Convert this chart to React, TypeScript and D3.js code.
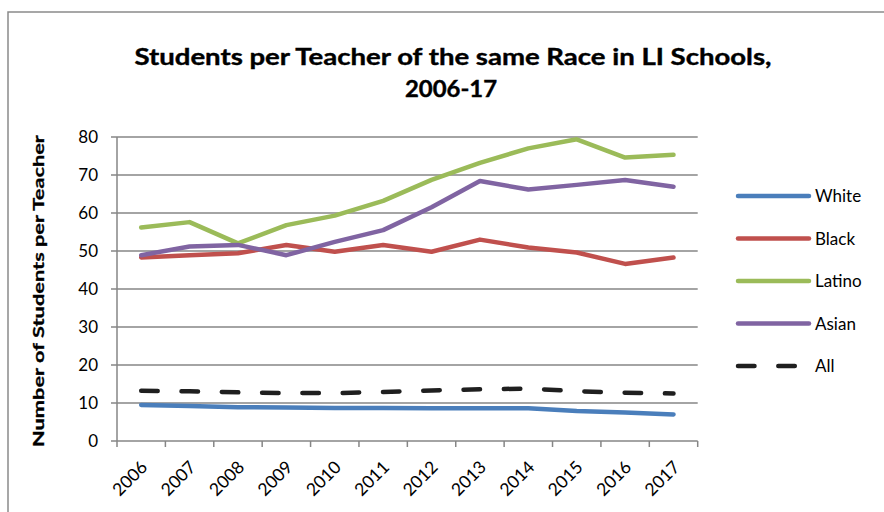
import React from "react";
import * as d3 from "d3";

const years = ["2006","2007","2008","2009","2010","2011","2012","2013","2014","2015","2016","2017"];
const white = [9.5, 9.2, 8.9, 8.8, 8.7, 8.7, 8.6, 8.6, 8.6, 7.9, 7.5, 7.0];
const black = [48.3, 48.9, 49.4, 51.6, 49.8, 51.6, 49.8, 53.0, 50.9, 49.6, 46.6, 48.3];
const latino = [56.2, 57.6, 52.0, 56.8, 59.3, 63.2, 68.7, 73.2, 77.0, 79.4, 74.6, 75.3];
const asian = [48.9, 51.2, 51.6, 48.9, 52.4, 55.5, 61.5, 68.4, 66.2, 67.4, 68.7, 66.9];
const all = [13.2, 13.1, 12.8, 12.6, 12.6, 12.9, 13.3, 13.6, 13.8, 13.1, 12.7, 12.5];
const yTicks = [0, 10, 20, 30, 40, 50, 60, 70, 80];

const seriesList = [
  { name: "White", values: white, color: "#4A7EBB", dash: "" },
  { name: "Black", values: black, color: "#C0504D", dash: "" },
  { name: "Latino", values: latino, color: "#9BBB59", dash: "" },
  { name: "Asian", values: asian, color: "#8064A2", dash: "" },
  { name: "All", values: all, color: "#1F1F1F", dash: "16.5,23.8" },
];

const FONT = "Lato, 'Open Sans', sans-serif";

export default function App() {
  const left = 117, right = 697.7, top = 137, bottom = 441;
  const x = d3.scaleBand<string>().domain(years).range([left, right]);
  const y = d3.scaleLinear().domain([0, 80]).range([bottom, top]);
  const line = d3
    .line<number>()
    .x((_, i) => (x(years[i]) as number) + x.bandwidth() / 2)
    .y((d) => y(d));
  const grid = "#868686";
  const legX1 = 738, legX2 = 809, legY0 = 196, legStep = 42.5;

  return (
    <svg
      width={884}
      height={512}
      style={{ position: "absolute", left: 0, top: 0, background: "#fff" }}
    >
      <rect x={0} y={0} width={884} height={512} fill="#fff" />
      {/* chart border */}
      <path d="M8,513 L8,12 L885,12" fill="none" stroke="#8a8a8a" strokeWidth={1.5} />

      {/* title */}
      <text x={453} y={65} textAnchor="middle" fontFamily={FONT} fontWeight="bold" fontSize={23}
        textLength={637} lengthAdjust="spacingAndGlyphs" fill="#000" stroke="#000" strokeWidth={0.4}>
        Students per Teacher of the same Race in LI Schools,
      </text>
      <text x={451} y={97} textAnchor="middle" fontFamily={FONT} fontWeight="bold" fontSize={23}
        textLength={92} lengthAdjust="spacingAndGlyphs" fill="#000" stroke="#000" strokeWidth={0.4}>
        2006-17
      </text>

      {/* y axis label */}
      <text transform={`translate(44,${(top + bottom) / 2 + 2}) rotate(-90)`} textAnchor="middle"
        fontFamily={FONT} fontWeight="bold" fontSize={16} textLength={312}
        lengthAdjust="spacingAndGlyphs" fill="#000" stroke="#000" strokeWidth={0.3}>
        Number of Students per Teacher
      </text>

      {/* gridlines and y ticks */}
      {yTicks.map((t) => (
        <g key={t}>
          <line x1={left - 6} x2={right} y1={y(t)} y2={y(t)} stroke={grid} strokeWidth={1.5} />
          <text x={98} y={y(t) + 6} textAnchor="end" fontFamily={FONT} fontSize={17} fill="#000">
            {t}
          </text>
        </g>
      ))}
      {/* y axis */}
      <line x1={left} x2={left} y1={top} y2={bottom} stroke={grid} strokeWidth={1.5} />
      {/* x tick marks */}
      {years.concat(["end"]).map((yr, i) => {
        const xx = left + i * x.step();
        return <line key={yr} x1={xx} x2={xx} y1={bottom} y2={bottom + 6} stroke={grid} strokeWidth={1.5} />;
      })}
      {/* x labels */}
      {years.map((yr) => {
        const cx = (x(yr) as number) + x.bandwidth() / 2;
        return (
          <text key={yr} transform={`translate(${cx + 3},${bottom + 23}) rotate(-45)`} textAnchor="end"
            fontFamily={FONT} fontSize={17.5} fill="#000" dy="0.35em">
            {yr}
          </text>
        );
      })}

      {/* series lines */}
      {seriesList.map((s) => (
        <path key={s.name} d={line(s.values) as string} fill="none" stroke={s.color} strokeWidth={4.5}
          strokeLinecap="round" strokeLinejoin="round" strokeDasharray={s.dash || undefined} />
      ))}

      {/* legend */}
      {seriesList.map((s, i) => {
        const ly = legY0 + i * legStep;
        return (
          <g key={s.name}>
            <line x1={legX1} x2={legX2} y1={ly} y2={ly} stroke={s.color} strokeWidth={4.5}
              strokeLinecap="round" strokeDasharray={s.dash || undefined} />
            <text x={815} y={ly + 6} fontFamily={FONT} fontSize={17} fill="#000">
              {s.name}
            </text>
          </g>
        );
      })}
    </svg>
  );
}
